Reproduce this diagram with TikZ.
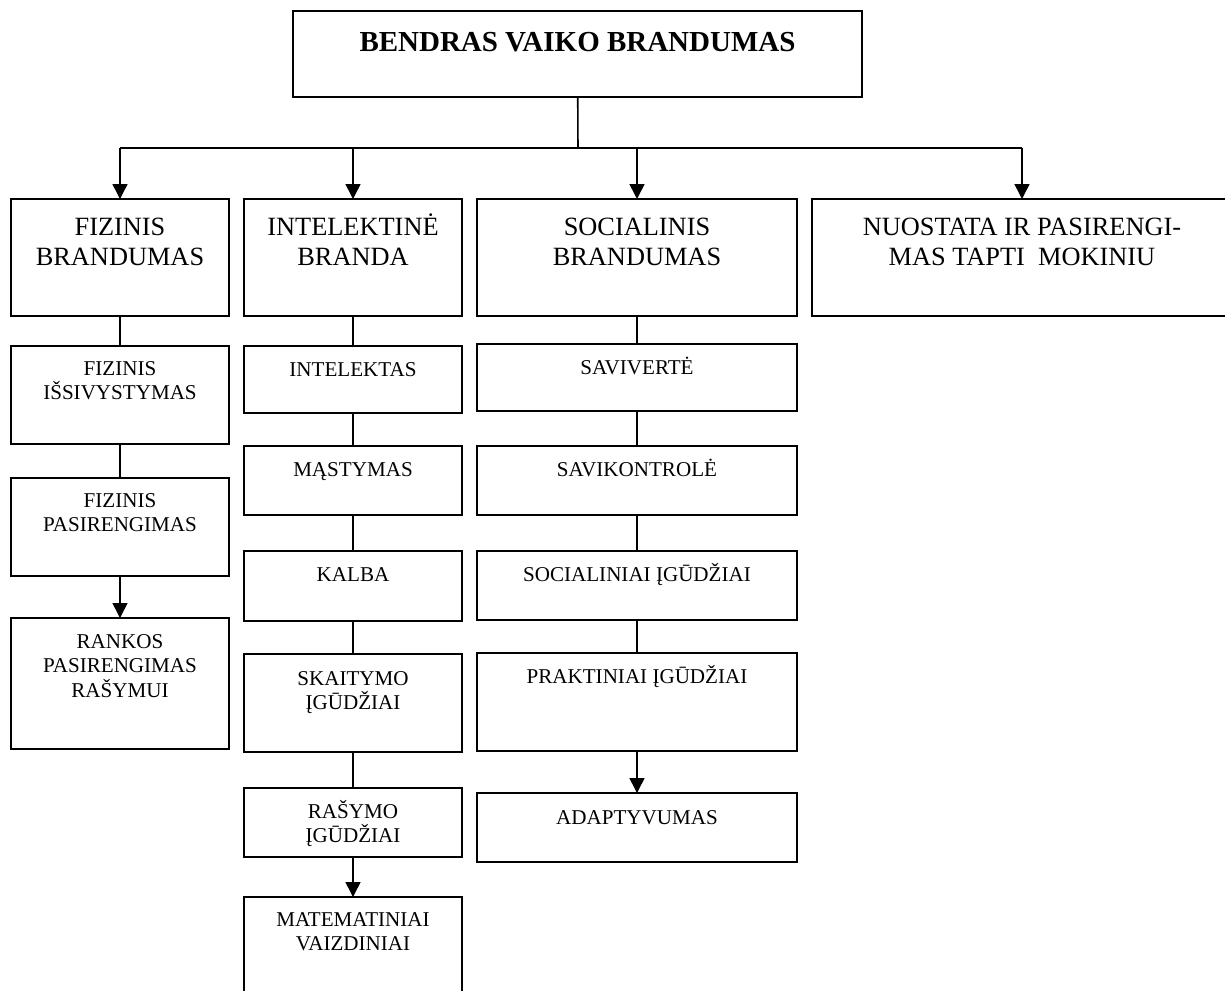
\documentclass[tikz,border=0pt]{standalone}
\usepackage{fontspec}
\setmainfont{Liberation Serif}
\usepackage{tikz}
\usetikzlibrary{arrows.meta}
\newlength{\pxu}
\setlength{\pxu}{0.02cm}
% box text: width, height, top padding (px), text
\newcommand{\boxtxt}[4]{\parbox[t][#2\pxu][t]{#1\pxu}{\centering\rule{0pt}{#3\pxu}#4}}

\begin{document}
\begin{tikzpicture}[
      x=0.02cm, y=-0.02cm,
      bx/.style={draw, line width=1pt, inner sep=0pt, outer sep=0pt, anchor=north west},
      head/.style={bx, font=\fontsize{16.5}{19}\selectfont\bfseries},
      main/.style={bx, font=\fontsize{15}{17.1}\selectfont},
      sub/.style={bx, font=\fontsize{12}{14.2}\selectfont},
      link/.style={line width=0.9pt},
      arr/.style={line width=0.9pt, -{Triangle[width=8.5pt, length=8.5pt]}},
    ]
    \useasboundingbox (0,0) rectangle (1225,991);
    \clip (0,0) rectangle (1225,991);

    % ---- Top box ----
    \node[head] (BVB) at (293,11) {\boxtxt{569}{86}{40}{BENDRAS VAIKO BRANDUMAS}};

    % ---- Second level (y = 199) ----
    \node[main] (FB) at (11,199)  {\boxtxt{218}{117}{36}{FIZINIS\\BRANDUMAS}};
    \node[main] (IB) at (244,199) {\boxtxt{218}{117}{36}{INTELEKTINĖ\\BRANDA}};
    \node[main] (SB) at (477,199) {\boxtxt{320}{117}{36}{SOCIALINIS\\BRANDUMAS}};
    \node[main] (NP) at (812,199) {\boxtxt{420}{117}{36}{NUOSTATA IR PASIRENGI-\\MAS TAPTI\ \ MOKINIU}};

    % ---- Left column ----
    \node[sub] (F1) at (11,346) {\boxtxt{218}{98}{29}{FIZINIS\\IŠSIVYSTYMAS}};
    \node[sub] (F2) at (11,478) {\boxtxt{218}{98}{29}{FIZINIS\\PASIRENGIMAS}};
    \node[sub] (F3) at (11,618) {\boxtxt{218}{131}{30}{RANKOS\\PASIRENGIMAS\\RAŠYMUI}};

    % ---- Middle column ----
    \node[sub] (I1) at (244,346) {\boxtxt{218}{67}{30}{INTELEKTAS}};
    \node[sub] (I2) at (244,446) {\boxtxt{218}{69}{30}{MĄSTYMAS}};
    \node[sub] (I3) at (244,551) {\boxtxt{218}{70}{30}{KALBA}};
    \node[sub] (I4) at (244,654) {\boxtxt{218}{98}{31}{SKAITYMO\\ĮGŪDŽIAI}};
    \node[sub] (I5) at (244,788) {\boxtxt{218}{69}{30}{RAŠYMO\\ĮGŪDŽIAI}};
    \node[sub] (I6) at (244,897) {\boxtxt{218}{130}{29}{MATEMATINIAI\\VAIZDINIAI}};

    % ---- Right column ----
    \node[sub] (S1) at (477,344) {\boxtxt{320}{67}{30}{SAVIVERTĖ}};
    \node[sub] (S2) at (477,446) {\boxtxt{320}{69}{30}{SAVIKONTROLĖ}};
    \node[sub] (S3) at (477,551) {\boxtxt{320}{69}{30}{SOCIALINIAI ĮGŪDŽIAI}};
    \node[sub] (S4) at (477,653) {\boxtxt{320}{98}{30}{PRAKTINIAI ĮGŪDŽIAI}};
    \node[sub] (S5) at (477,793) {\boxtxt{320}{69}{31}{ADAPTYVUMAS}};

    % ---- Branching from the top box ----
    \coordinate (bar) at (578,148);
    \draw[link] (BVB) -- (bar);
    \draw[line width=1.3pt] (FB.north |- bar) -- (NP.north |- bar);
    \foreach \b in {FB, IB, SB, NP}
      \draw[arr] (\b.north |- bar) -- (\b.north);

    % ---- Column links ----
    \foreach \a/\b in {FB/F1, F1/F2, IB/I1, I1/I2, I2/I3, I3/I4, I4/I5,
        SB/S1, S1/S2, S2/S3, S3/S4}
      \draw[link] (\a) -- (\b);
    \foreach \a/\b in {F2/F3, I5/I6, S4/S5}
      \draw[arr] (\a) -- (\b);

  \end{tikzpicture}
\end{document}
